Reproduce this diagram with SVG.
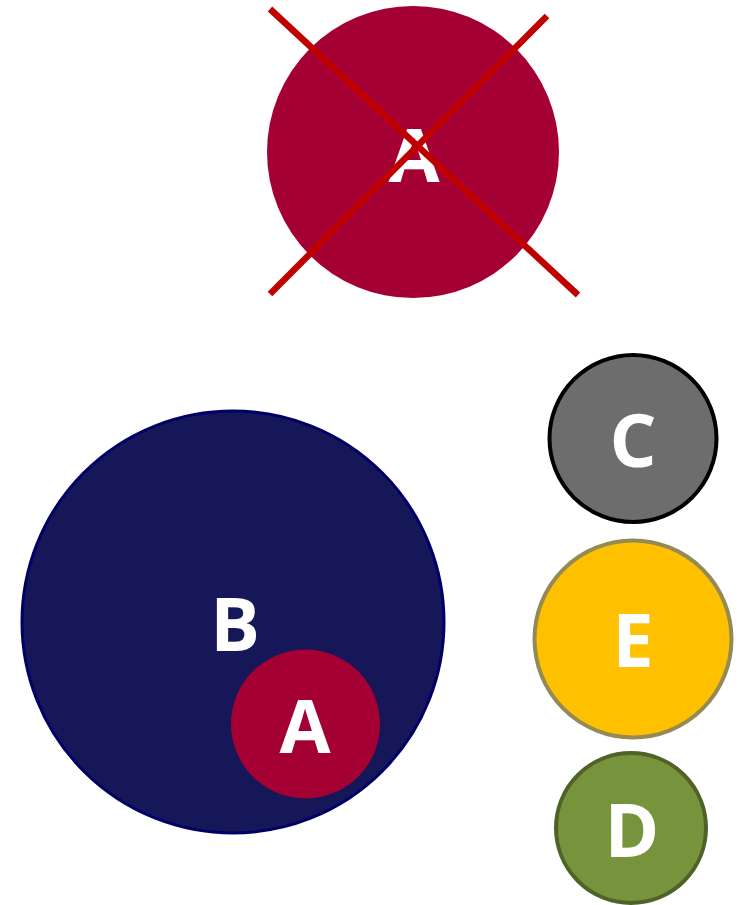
<svg xmlns="http://www.w3.org/2000/svg" width="738" height="905" viewBox="0 0 738 905">
<style>
.lbl{font-family:"Open Sans","Noto Sans","Liberation Sans",sans-serif;font-weight:bold;font-size:74px;fill:#FFFFFF;text-anchor:middle}
.cross{stroke:#C00000;stroke-width:6.5;fill:none}
</style>
<rect width="738" height="905" fill="#FFFFFF"/>
<g id="nodeA-top">
<circle cx="413" cy="152" r="146" fill="#A50034"/>
<text class="lbl" x="414" y="182">A</text>
</g>
<g id="cross">
<line class="cross" x1="270" y1="9" x2="578" y2="295"/>
<line class="cross" x1="270" y1="294" x2="547" y2="16"/>
</g>
<g id="nodeB">
<circle cx="233" cy="622" r="211" fill="#151759" stroke="#000066" stroke-width="3"/>
<text class="lbl" x="235" y="651">B</text>
</g>
<g id="nodeA-inner">
<circle cx="305.5" cy="724" r="74.5" fill="#A50034"/>
<text class="lbl" x="305" y="753">A</text>
</g>
<g id="nodeC">
<circle cx="633" cy="438.5" r="83.5" fill="#6D6D6D" stroke="#000000" stroke-width="4"/>
<text class="lbl" x="633" y="467">C</text>
</g>
<g id="nodeE">
<circle cx="633" cy="639" r="98.5" fill="#FFC000" stroke="#948A54" stroke-width="4"/>
<text class="lbl" x="633" y="667">E</text>
</g>
<g id="nodeD">
<circle cx="631" cy="828" r="75" fill="#77933C" stroke="#4F6228" stroke-width="4"/>
<text class="lbl" x="632" y="857">D</text>
</g>
<g id="connectors"></g>
</svg>
